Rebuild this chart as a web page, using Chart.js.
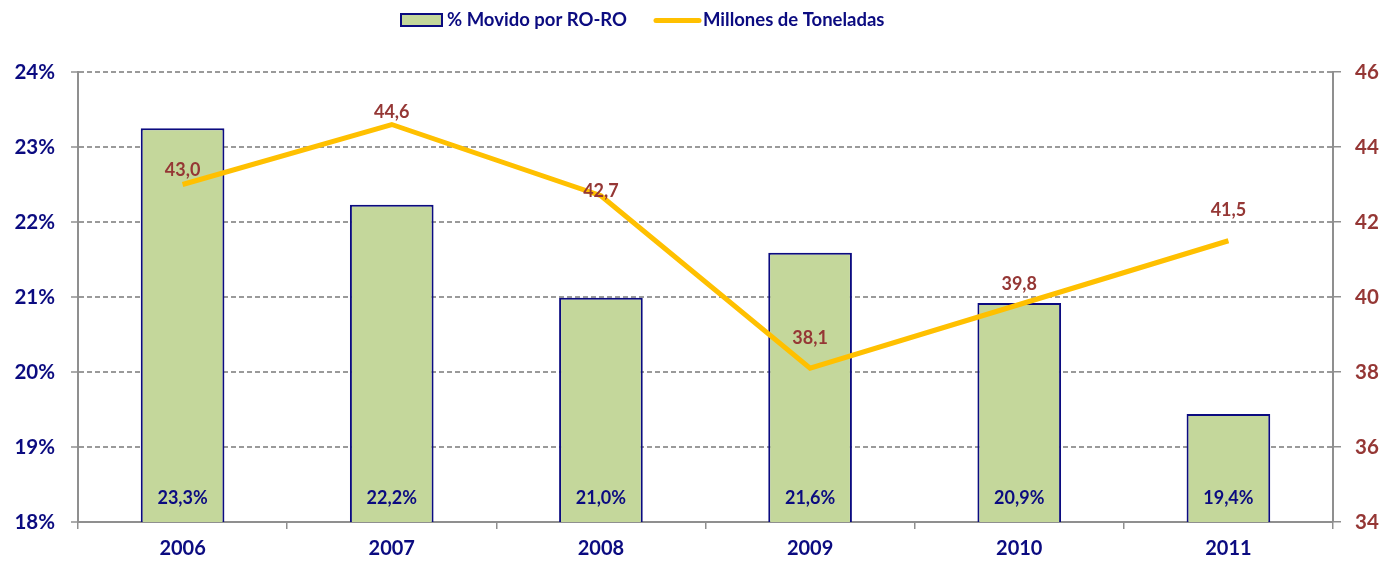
<!DOCTYPE html>
<html><head><meta charset="utf-8">
<script src="https://cdn.jsdelivr.net/npm/chart.js@4.4.1/dist/chart.umd.min.js"></script>
<style>html,body{margin:0;padding:0;background:#fff}#wrap{width:1385px;height:564px}</style>
</head><body><div id="wrap"><canvas id="c" width="1385" height="564"></canvas></div>
<script>
const categories = ['2006','2007','2008','2009','2010','2011'];
const pctRoRo = [23.25, 22.23, 20.99, 21.59, 20.92, 19.44];
const pctLabels = ['23,3%','22,2%','21,0%','21,6%','20,9%','19,4%'];
const tonnes = [43.0, 44.6, 42.7, 38.1, 39.8, 41.5];
const tonneLabels = ['43,0','44,6','42,7','38,1','39,8','41,5'];
const seriesNames = ['% Movido por RO-RO','Millones de Toneladas'];

const NAVY = '#0b0b80', BROWN = '#953735', GOLD = '#FFC000', GREEN = '#C4D79B', GRAY = '#8f8f8f';
const FONT = 'Lato, "Open Sans", sans-serif';
const lineLabelOffsets = [14, 12, 5, 30, 20, 31];

const labelPlugin = {
  id: 'labels',
  afterDatasetsDraw(chart) {
    const ctx = chart.ctx;
    ctx.save();
    ctx.textAlign = 'center'; ctx.textBaseline = 'middle';
    ctx.font = 'bold 18px ' + FONT;
    const bm = chart.getDatasetMeta(0);
    bm.data.forEach((el, i) => {
      ctx.fillStyle = NAVY;
      ctx.fillText(pctLabels[i], el.x, chart.chartArea.bottom - 24);
    });
    const lm = chart.getDatasetMeta(1);
    lm.data.forEach((el, i) => {
      ctx.fillStyle = BROWN;
      ctx.fillText(tonneLabels[i], el.x, el.y - lineLabelOffsets[i]);
    });
    // legend
    ctx.font = 'bold 18.5px ' + FONT;
    ctx.textAlign = 'left';
    ctx.fillStyle = GREEN; ctx.fillRect(401, 14, 41, 12);
    ctx.strokeStyle = NAVY; ctx.lineWidth = 2; ctx.strokeRect(401, 14, 41, 12);
    ctx.fillStyle = NAVY; ctx.fillText(seriesNames[0], 447, 20);
    ctx.strokeStyle = GOLD; ctx.lineWidth = 5; ctx.lineCap = 'round';
    ctx.beginPath(); ctx.moveTo(656, 20.5); ctx.lineTo(699, 20.5); ctx.stroke();
    ctx.fillStyle = NAVY; ctx.fillText(seriesNames[1], 703, 20);
    ctx.restore();
  }
};

new Chart(document.getElementById('c'), {
  data: {
    labels: categories,
    datasets: [
      { type: 'bar', label: seriesNames[0], data: pctRoRo, yAxisID: 'y', order: 2,
        backgroundColor: GREEN, borderColor: NAVY, borderWidth: 2,
        barPercentage: 0.4, categoryPercentage: 1 },
      { type: 'line', label: seriesNames[1], data: tonnes, yAxisID: 'y1', order: 1,
        borderColor: GOLD, borderWidth: 5, pointRadius: 0, tension: 0, fill: false }
    ]
  },
  options: {
    responsive: false, animation: false,
    layout: { padding: { top: 72, left: 0, right: 0, bottom: 0 } },
    plugins: { legend: { display: false }, tooltip: { enabled: false } },
    scales: {
      x: {
        offset: true,
        grid: { offset: true, drawOnChartArea: false, drawTicks: true, tickLength: 7, color: GRAY, lineWidth: 1.5 },
        border: { color: GRAY, width: 2 },
        ticks: { color: NAVY, font: { family: FONT, size: 20, weight: 'bold' }, padding: 8 },
        afterFit(s) { s.height = 42; }
      },
      y: {
        position: 'left', min: 18, max: 24,
        ticks: { stepSize: 1, color: NAVY, font: { family: FONT, size: 20.5, weight: 'bold' }, padding: 16,
                 callback: v => v + '%' },
        grid: { color: '#9a9a9a', lineWidth: 2, tickLength: 7, tickBorderDash: [], tickColor: GRAY, tickWidth: 1.5 },
        border: { color: GRAY, width: 2, dash: [5, 3] },
        afterFit(s) { s.width = 78; }
      },
      y1: {
        position: 'right', min: 34, max: 46,
        ticks: { stepSize: 2, color: BROWN, font: { family: FONT, size: 20.5, weight: 'bold' }, padding: 14 },
        grid: { drawOnChartArea: false, tickLength: 8, color: GRAY, lineWidth: 1.5 },
        border: { color: GRAY, width: 2 },
        afterFit(s) { s.width = 52; }
      }
    }
  },
  plugins: [labelPlugin]
});
</script></body></html>
